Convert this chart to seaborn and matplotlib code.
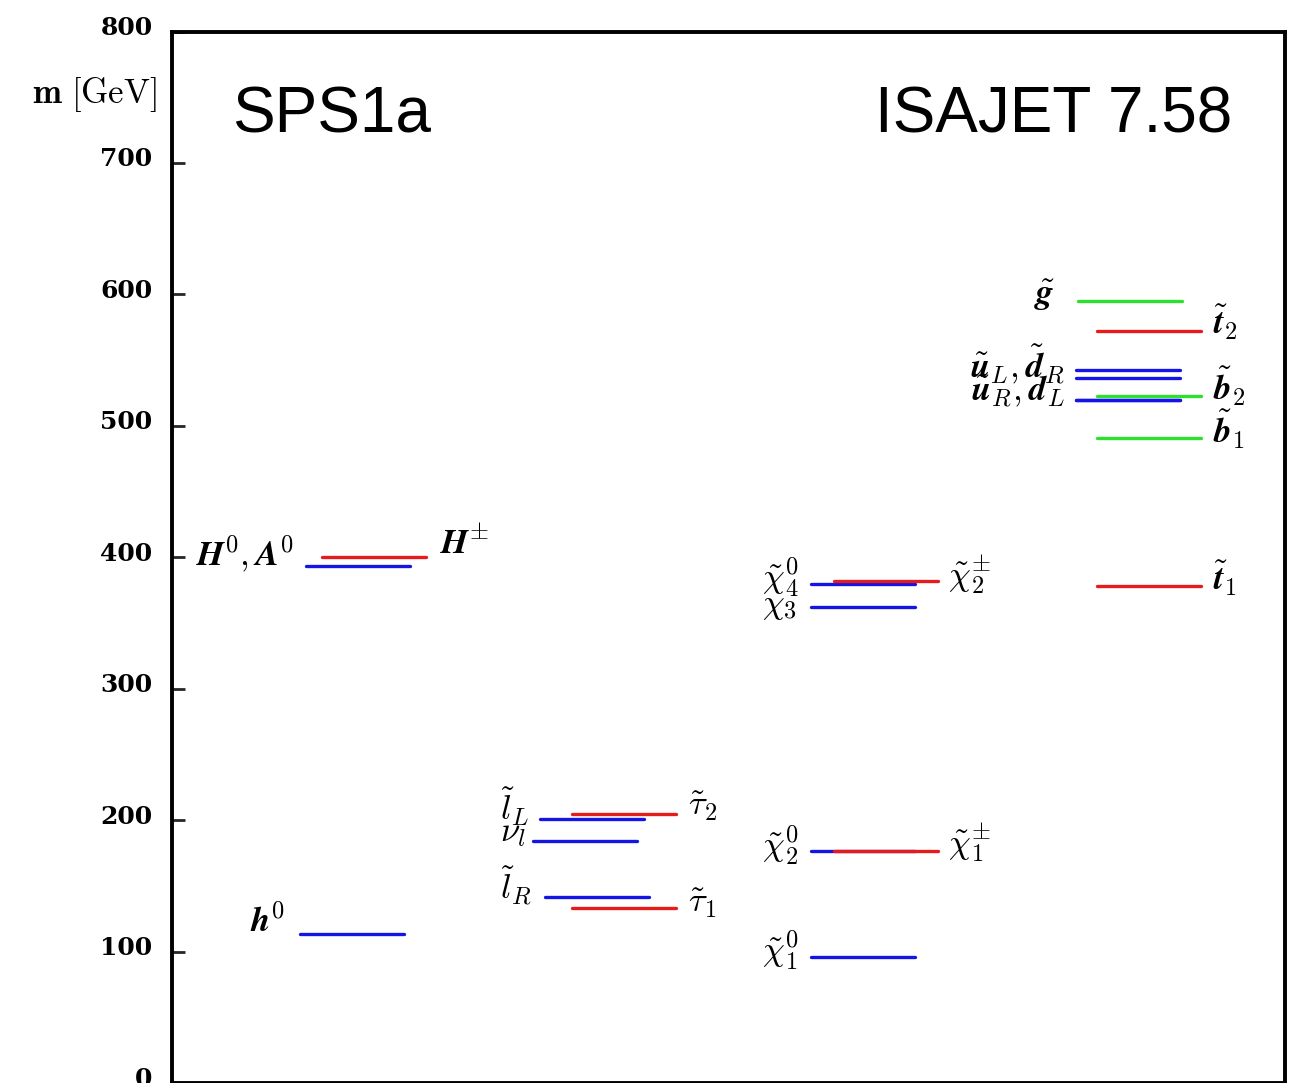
import pandas as pd
import seaborn as sns
import matplotlib.pyplot as plt
import matplotlib.transforms as mtransforms

# SPS1a mass spectrum (ISAJET 7.58), masses in GeV
higgs_names = ['h0', 'H0A0', 'Hpm']
higgs_mass = [113.7, 393.5, 400.4]
higgs_kind = ['neutral', 'neutral', 'charged']

slepton_names = ['eL', 'tau2', 'nu', 'eR', 'tau1']
slepton_mass = [201.0, 205.0, 184.4, 141.8, 133.5]
slepton_kind = ['neutral', 'charged', 'neutral', 'neutral', 'charged']

gaugino_names = ['chi4', 'chi3', 'chi2', 'chi1', 'cha2', 'cha1']
gaugino_mass = [380.0, 362.0, 176.8, 96.2, 382.0, 176.8]
gaugino_kind = ['neutral', 'neutral', 'neutral', 'neutral', 'charged', 'charged']

squark_names = ['gluino', 't2', 'uL', 'dR', 'b2', 'uRdL', 'b1', 't1']
squark_mass = [595.0, 572.0, 542.6, 536.5, 522.8, 519.8, 491.0, 378.0]
squark_kind = ['gluon', 'charged', 'neutral', 'neutral', 'gluon', 'neutral', 'gluon', 'charged']

tick_values = [0, 100, 200, 300, 400, 500, 600, 700, 800]

# horizontal layout (x unit = 100 px from the left spine)
x_left = {
    'h0': 1.28, 'H0A0': 1.34, 'Hpm': 1.50,
    'eL': 3.68, 'tau2': 4.00, 'nu': 3.61, 'eR': 3.73, 'tau1': 4.00,
    'chi4': 6.39, 'chi3': 6.39, 'chi2': 6.39, 'chi1': 6.39, 'cha2': 6.62, 'cha1': 6.62,
    'gluino': 9.06, 't2': 9.25, 'uL': 9.04, 'dR': 9.04, 'b2': 9.25, 'uRdL': 9.04,
    'b1': 9.25, 't1': 9.25,
}
seg_len = 1.04

names = higgs_names + slepton_names + gaugino_names + squark_names
masses = higgs_mass + slepton_mass + gaugino_mass + squark_mass
kinds = higgs_kind + slepton_kind + gaugino_kind + squark_kind

rows = []
for n, m, k in zip(names, masses, kinds):
    rows.append({'name': n, 'x': x_left[n], 'mass': m, 'kind': k})
    rows.append({'name': n, 'x': x_left[n] + seg_len, 'mass': m, 'kind': k})
df = pd.DataFrame(rows)

sns.set_style('ticks')
plt.rcParams['mathtext.fontset'] = 'cm'
plt.rcParams['font.family'] = ['DejaVu Sans']
plt.rcParams['text.color'] = 'black'

fig = plt.figure(figsize=(12.89, 10.83), dpi=100)
ax = fig.add_axes([0.1334, 0.0, 0.8636, 0.9709])

palette = {'neutral': '#1414e6', 'charged': '#e61c1c', 'gluon': '#2ee02e'}
# draw neutral first so the charged partners sit on top
for k in ['neutral', 'gluon', 'charged']:
    sub = df[df['kind'] == k]
    sns.lineplot(data=sub, x='x', y='mass', units='name', estimator=None, sort=False,
                 color=palette[k], linewidth=2.4, legend=False, ax=ax)
# the blue uR/dL sits above b2 in the original
sub = df[df['name'] == 'uRdL']
sns.lineplot(data=sub, x='x', y='mass', units='name', estimator=None, sort=False,
             color=palette['neutral'], linewidth=2.4, legend=False, ax=ax)

ax.set_xlim(0, 11.13)
ax.set_ylim(0, 800)
ax.set_xticks([])
ax.set_xlabel('')
ax.set_ylabel('')
ax.set_yticks(tick_values, labels=[str(t) for t in tick_values])
ax.tick_params(axis='y', direction='in', length=9, width=2, labelsize=18, pad=14,
               labelcolor='black')
shift = mtransforms.ScaledTranslation(0, 6 / 100, fig.dpi_scale_trans)
for t in ax.get_yticklabels():
    t.set_fontfamily('DejaVu Serif')
    t.set_fontweight('bold')
    t.set_transform(t.get_transform() + shift)
for s in ax.spines.values():
    s.set_linewidth(2.8)
    s.set_color('black')

lab = dict(fontsize=25, va='center')
# Higgs
ax.text(1.13, 122.8, r'$\boldsymbol{h}^0$', ha='right', **lab)
ax.text(1.21, 403, r'$\boldsymbol{H}^0,\boldsymbol{A}^0$', ha='right', **lab)
ax.text(2.68, 410, r'$\boldsymbol{H}^{\pm}$', ha='left', **lab)
# sleptons
ax.text(3.28, 210, r'$\tilde{l}_L$', ha='left', **lab)
ax.text(3.28, 191, r'$\nu_l$', ha='left', **lab)
ax.text(3.28, 150, r'$\tilde{l}_R$', ha='left', **lab)
ax.text(5.16, 211, r'$\tilde{\tau}_2$', ha='left', **lab)
ax.text(5.16, 137, r'$\tilde{\tau}_1$', ha='left', **lab)
# gauginos
ax.text(5.90, 385, r'$\tilde{\chi}^0_4$', ha='left', **lab)
ax.text(5.90, 364, r'$\chi_3$', ha='left', **lab)
ax.text(7.76, 387, r'$\tilde{\chi}^{\pm}_2$', ha='left', **lab)
ax.text(5.90, 181, r'$\tilde{\chi}^0_2$', ha='left', **lab)
ax.text(7.76, 183, r'$\tilde{\chi}^{\pm}_1$', ha='left', **lab)
ax.text(5.90, 101, r'$\tilde{\chi}^0_1$', ha='left', **lab)
# squarks and gluino
ax.text(8.83, 599, r'$\tilde{\boldsymbol{g}}$', ha='right', **lab)
ax.text(8.93, 547, r'$\tilde{\boldsymbol{u}}_L,\tilde{\boldsymbol{d}}_R$', ha='right', **lab)
ax.text(8.93, 526, r'$\tilde{\boldsymbol{u}}_R,\boldsymbol{d}_L$', ha='right', **lab)
ax.text(10.41, 579, r'$\tilde{\boldsymbol{t}}_2$', ha='left', **lab)
ax.text(10.41, 530, r'$\tilde{\boldsymbol{b}}_2$', ha='left', **lab)
ax.text(10.41, 497, r'$\tilde{\boldsymbol{b}}_1$', ha='left', **lab)
ax.text(10.41, 384, r'$\tilde{\boldsymbol{t}}_1$', ha='left', **lab)

ax.text(-0.15, 752, r'$\mathbf{m}\ [\mathrm{GeV}]$', ha='right', va='center', fontsize=25)

ax.text(0.60, 736, 'SPS1a', family='Liberation Sans', fontsize=46, ha='left', va='center')
ax.text(10.60, 736, 'ISAJET 7.58', family='Liberation Sans', fontsize=46, ha='right', va='center')

fig.savefig('out.png', dpi=100, facecolor='white')
